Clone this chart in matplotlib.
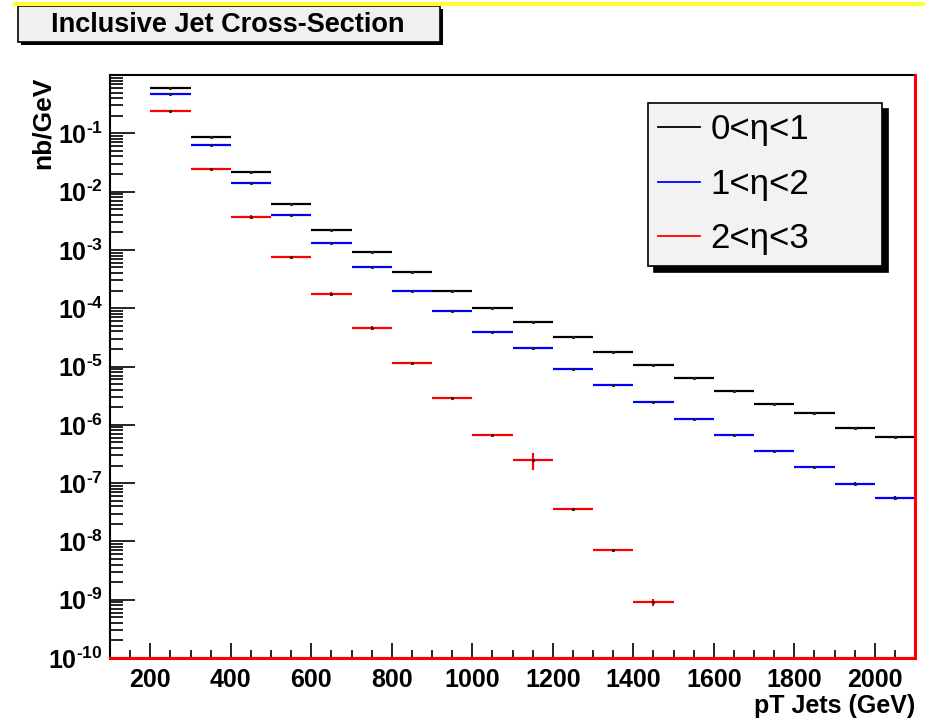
import numpy as np
import matplotlib
matplotlib.use('Agg')
import matplotlib.pyplot as plt
from matplotlib.patches import Rectangle
from matplotlib.lines import Line2D
from matplotlib.ticker import FixedLocator, LogLocator, MultipleLocator, FuncFormatter, NullFormatter

plt.rcParams['font.family'] = ['Liberation Sans', 'DejaVu Sans']
plt.rcParams['mathtext.fontset'] = 'custom'
plt.rcParams['mathtext.rm'] = 'Liberation Sans:bold'
plt.rcParams['mathtext.bf'] = 'Liberation Sans:bold'
plt.rcParams['mathtext.it'] = 'Liberation Sans:bold'

# pT bin edges in GeV
bin_edges = [200, 300, 400, 500, 600, 700, 800, 900, 1000, 1100, 1200,
             1300, 1400, 1500, 1600, 1700, 1800, 1900, 2000, 2100]

# cross-section per bin (nb/GeV) and errors for each eta slice
xsec_eta01 = [0.61, 0.085, 0.0214, 6.1e-3, 2.2e-3, 9.2e-4, 4.1e-4, 1.96e-4,
              1.02e-4, 5.7e-5, 3.2e-5, 1.74e-5, 1.07e-5, 6.3e-6, 3.8e-6,
              2.28e-6, 1.58e-6, 8.7e-7, 6.2e-7]
err_eta01 = [0.005, 8e-4, 1.6e-3, 6e-5, 2e-5, 9e-6, 6e-6, 2e-6,
             1.5e-6, 8e-7, 4e-7, 2.5e-7, 1.5e-7, 9e-8, 5e-8,
             3e-8, 8e-8, 1.5e-8, 1e-8]

xsec_eta12 = [0.47, 0.063, 0.0138, 4.0e-3, 1.33e-3, 5.1e-4, 1.96e-4, 8.9e-5,
              3.96e-5, 2.04e-5, 9.2e-6, 4.8e-6, 2.43e-6, 1.26e-6, 6.6e-7,
              3.6e-7, 1.9e-7, 9.8e-8, 5.5e-8]
err_eta12 = [0.005, 6e-4, 2e-4, 5e-5, 2e-5, 7e-6, 3e-6, 1.5e-6,
             6e-7, 1.2e-6, 1.5e-7, 8e-8, 4e-8, 2e-8, 1e-8,
             6e-9, 4e-9, 5e-9, 4e-9]

xsec_eta23 = [0.24, 0.0247, 3.7e-3, 7.5e-4, 1.74e-4, 4.6e-5, 1.13e-5, 2.85e-6,
              6.6e-7, 2.5e-7, 3.55e-8, 7.0e-9, 9.1e-10]
err_eta23 = [0.003, 3e-4, 2.5e-4, 4e-5, 1.2e-5, 3e-6, 5e-7, 6e-8,
             3e-8, 8e-8, 2e-9, 5e-10, 1.2e-10]

series = [
    ('0<η<1', xsec_eta01, err_eta01, 'black'),
    ('1<η<2', xsec_eta12, err_eta12, 'blue'),
    ('2<η<3', xsec_eta23, err_eta23, 'red'),
]

W, H = 925, 718
fig = plt.figure(figsize=(W / 100, H / 100), dpi=100)
ax = fig.add_axes([110 / W, 1 - 658 / H, 805 / W, 583 / H])

edges = np.array(bin_edges, dtype=float)
centers = 0.5 * (edges[:-1] + edges[1:])
halfw = 0.5 * (edges[1:] - edges[:-1])

handles = []
for label, vals, errs, col in series:
    n = len(vals)
    ax.errorbar(centers[:n], vals, xerr=halfw[:n], yerr=errs, fmt='none',
                ecolor=col, elinewidth=1.6, capsize=0, zorder=3)
    ax.plot(centers[:n], vals, ls='none', marker='s', ms=1.2,
            color='#222222', zorder=4)
    handles.append(Line2D([], [], color=col, lw=1.3))

ax.set_yscale('log')
ax.set_xlim(100, 2100)
ax.set_ylim(1e-10, 1)


def decade_label(v, pos):
    # short hyphen in the exponent keeps the labels compact
    k = int(round(np.log10(v)))
    return r'$10^{\text{-}%d}$' % abs(k) if k < 0 else r'$10^{%d}$' % k


# ROOT-like frame: inward ticks on left/bottom only
ax.yaxis.set_major_locator(FixedLocator([10.0 ** k for k in range(-10, 0)]))
ax.yaxis.set_minor_locator(LogLocator(base=10, subs=np.arange(2, 10), numticks=20))
ax.yaxis.set_minor_formatter(NullFormatter())
ax.yaxis.set_major_formatter(FuncFormatter(decade_label))
ax.xaxis.set_major_locator(MultipleLocator(200))
ax.xaxis.set_minor_locator(MultipleLocator(50))
ax.tick_params(axis='y', which='major', direction='in', length=18, width=1.2,
               labelsize=18, pad=5)
ax.tick_params(axis='y', which='minor', direction='in', length=9, width=1.2)
ax.tick_params(axis='x', which='major', direction='in', length=11, width=1.2,
               labelsize=18, pad=7)
ax.tick_params(axis='x', which='minor', direction='in', length=6, width=1.2)
for t in ax.get_xticklabels():
    t.set_fontweight('bold')

for s in ax.spines.values():
    s.set_linewidth(1.5)
ax.axhline(1e-10, color='red', lw=2.2, zorder=5, clip_on=False)
ax.axvline(2100, color='red', lw=2.2, zorder=5, clip_on=False)

ax.set_ylabel('nb/GeV', fontsize=19, fontweight='bold', loc='top')
ax.yaxis.set_label_coords(-55 / 805, 1 - 2 / 583)
ax.set_xlabel('pT Jets (GeV)', fontsize=18, fontweight='bold', loc='right',
              labelpad=2)

leg = ax.legend(handles, [s[0] for s in series], loc='upper left',
                bbox_to_anchor=(648 / W, 1 - 264 / H, 234 / W, 161 / H),
                bbox_transform=fig.transFigure, mode='expand',
                fancybox=False, edgecolor='black', facecolor='#f2f2f2',
                framealpha=1, shadow={'color': 'black', 'alpha': 1, 'ox': 4.5, 'oy': -4.5},
                prop={'size': 25}, handlelength=1.2, handletextpad=0.3,
                borderpad=0.3, labelspacing=0.62, borderaxespad=0)
leg.get_frame().set_linewidth(1.2)

# title box in the top-left corner
fig.add_artist(Rectangle((21 / W, 1 - 45 / H), 422 / W, 36 / H,
                         transform=fig.transFigure, facecolor='black',
                         edgecolor='none'))
fig.add_artist(Rectangle((18 / W, 1 - 42 / H), 422 / W, 36 / H,
                         transform=fig.transFigure, facecolor='#f0f0f0',
                         edgecolor='black', lw=1.2))
fig.text(228 / W, 1 - 25 / H, 'Inclusive Jet Cross-Section', fontsize=19.5,
         fontweight='bold', ha='center', va='center')
fig.add_artist(Line2D([15 / W, 1], [1 - 4 / H, 1 - 4 / H],
                      transform=fig.transFigure, color='#ffff33', lw=3))

fig.savefig('out.png', dpi=100)
